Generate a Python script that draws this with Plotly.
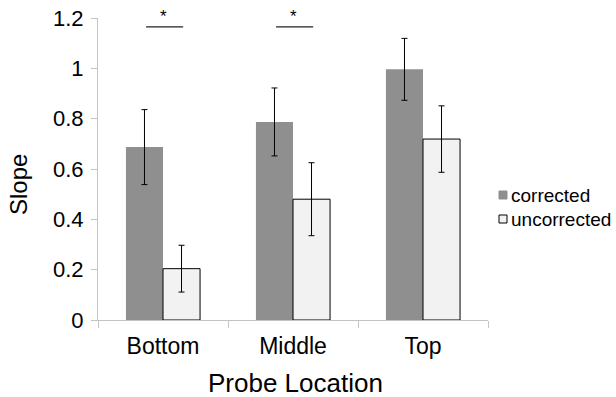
import plotly.graph_objects as go

categories = ["Bottom", "Middle", "Top"]
corrected = [0.687, 0.787, 0.996]
corrected_err = [0.149, 0.135, 0.123]
uncorrected = [0.204, 0.480, 0.719]
uncorrected_err = [0.093, 0.145, 0.132]
y_ticks = [0, 0.2, 0.4, 0.6, 0.8, 1.0, 1.2]
y_tick_labels = ["0", "0.2", "0.4", "0.6", "0.8", "1", "1.2"]
sig_categories = ["Bottom", "Middle"]
sig_level = 1.165
series_names = ["corrected", "uncorrected"]
series_fill = ["#8f8f8f", "#f2f2f2"]
series_edge = ["#8f8f8f", "black"]

FONT = "Liberation Sans, Arial, Helvetica, sans-serif"

W, H = 616, 397
# plot area in window pixels: x 98..488, y 18..320
L, R, T, B = 98, 616 - 488, 18, 397 - 320
PW, PH = W - L - R, H - T - B


def px_x(p):
    return (p - L) / PW


def px_y(p):
    return (H - B - p) / PH


fig = go.Figure()
fig.add_trace(go.Bar(
    name=series_names[0], x=categories, y=corrected,
    marker=dict(color=series_fill[0], line=dict(width=0)),
    error_y=dict(type="data", array=corrected_err, color="black", thickness=1, width=3),
))
fig.add_trace(go.Bar(
    name=series_names[1], x=categories, y=uncorrected,
    marker=dict(color=series_fill[1], line=dict(color="black", width=1)),
    error_y=dict(type="data", array=uncorrected_err, color="black", thickness=1, width=3),
))

for c in sig_categories:
    i = categories.index(c)
    fig.add_shape(type="line", xref="x", yref="y",
                  x0=i - 0.13, x1=i + 0.155, y0=sig_level, y1=sig_level,
                  line=dict(color="#222222", width=1.3))
    fig.add_annotation(x=i + 0.005, y=sig_level, xref="x", yref="y", text="*",
                       showarrow=False, yanchor="bottom", yshift=-1,
                       font=dict(size=17, color="black", family=FONT))

# custom legend
legend_rows = [195, 219]
for name, fill, edge, yc in zip(series_names, series_fill, series_edge, legend_rows):
    fig.add_shape(type="rect", xref="paper", yref="paper",
                  x0=px_x(499), x1=px_x(507), y0=px_y(yc + 4), y1=px_y(yc - 4),
                  fillcolor=fill, line=dict(color=edge, width=1))
    fig.add_annotation(xref="paper", yref="paper", x=px_x(509), y=px_y(yc),
                       text=name, showarrow=False, xanchor="left", yanchor="middle",
                       font=dict(size=19, color="black", family=FONT))

# axis titles
fig.add_annotation(xref="paper", yref="paper", x=px_x(295), y=px_y(383),
                   text="Probe Location", showarrow=False,
                   xanchor="center", yanchor="middle",
                   font=dict(size=26, color="black", family=FONT))
fig.add_annotation(xref="paper", yref="paper", x=px_x(18), y=px_y(185),
                   text="Slope", showarrow=False, textangle=-90,
                   xanchor="center", yanchor="middle",
                   font=dict(size=24, color="black", family=FONT))

fig.update_layout(
    width=W, height=H,
    margin=dict(l=L, r=R, t=T, b=B, autoexpand=False),
    paper_bgcolor="white", plot_bgcolor="white",
    barmode="group", bargap=0.43, bargroupgap=0,
    font=dict(family=FONT, color="black"),
    showlegend=False,
)
fig.update_xaxes(
    automargin=False,
    tickfont=dict(size=23, family=FONT), ticklabelstandoff=5,
    showline=True, linecolor="#c4c4c4", linewidth=1,
    ticks="outside", tickson="boundaries", ticklen=7, tickcolor="#c4c4c4",
    showgrid=False, zeroline=False,
)
fig.update_yaxes(
    automargin=False,
    range=[0, 1.2], tickvals=y_ticks, ticktext=y_tick_labels,
    tickfont=dict(size=22, family=FONT), ticklabeloverflow="allow",
    ticklabelstandoff=3,
    showline=True, linecolor="#c4c4c4", linewidth=1,
    ticks="outside", ticklen=6, tickcolor="#c4c4c4",
    showgrid=False, zeroline=False,
)

fig.write_html("out.html",
               config={"displayModeBar": False},
               post_script="document.body.style.margin='0';document.body.style.overflow='hidden';")
